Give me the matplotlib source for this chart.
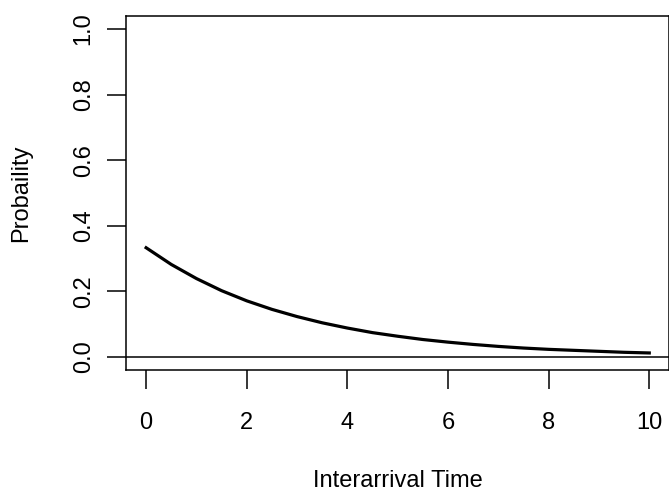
import matplotlib
matplotlib.use("Agg")
import matplotlib.pyplot as plt

x_vals = [0, 0.5, 1, 1.5, 2, 2.5, 3, 3.5, 4, 4.5, 5, 5.5, 6, 6.5, 7, 7.5, 8, 8.5, 9, 9.5, 10]
y_vals = [0.333, 0.282, 0.239, 0.202, 0.171, 0.145, 0.123, 0.104, 0.088, 0.074, 0.063,
          0.053, 0.045, 0.038, 0.032, 0.027, 0.023, 0.020, 0.017, 0.014, 0.012]
x_ticks = [0, 2, 4, 6, 8, 10]
y_ticks = [0.0, 0.2, 0.4, 0.6, 0.8, 1.0]

plt.rcParams['font.family'] = ['Liberation Sans', 'DejaVu Sans']
W, H = 669, 499
fig = plt.figure(figsize=(W / 100, H / 100), dpi=100)
left, right, bottom, top = 126, 669.4, 370, 16
ax = fig.add_axes([left / W, 1 - bottom / H, (right - left) / W, (bottom - top) / H])

ax.plot(x_vals, y_vals, color='black', lw=2.3, solid_joinstyle='round')
ax.axhline(0, color='black', lw=1.1)
ax.set_xlim(-0.4, 10.4)
ax.set_ylim(-0.04, 1.04)
for s in ax.spines.values():
    s.set_linewidth(1.1)
    s.set_clip_on(False)
ax.set_xticks(x_ticks)
ax.set_xticklabels([str(v) for v in x_ticks])
ax.set_yticks(y_ticks)
ax.set_yticklabels([f"{v:.1f}" for v in y_ticks], rotation=90, va='center')
ax.tick_params(direction='out', length=14, width=1.1, labelsize=17)
ax.tick_params(axis='x', pad=16.3)
ax.tick_params(axis='y', pad=8.5)
ax.set_xlabel('Interarrival Time', fontsize=17, labelpad=26)
ax.set_ylabel('Probaility', fontsize=17, labelpad=29)
fig.savefig('out.png', dpi=100)
